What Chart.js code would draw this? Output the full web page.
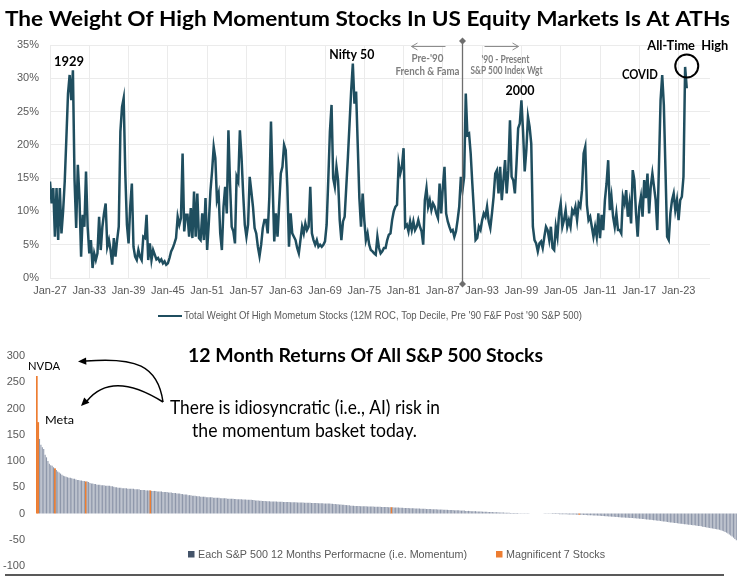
<!DOCTYPE html>
<html>
<head>
<meta charset="utf-8">
<script src="https://cdn.jsdelivr.net/npm/chart.js@4.4.1/dist/chart.umd.min.js"></script>
<style>
  html, body { margin: 0; padding: 0; background: #fff; }
  #wrap { position: relative; width: 740px; height: 586px; }
  #topChart { position: absolute; left: 0; top: 0; }
  #bottomChart { position: absolute; left: 0; top: 330px; }
</style>
</head>
<body>
<div id="wrap">
  <canvas id="topChart" width="740" height="330" style="width:740px;height:330px"></canvas>
  <canvas id="bottomChart" width="740" height="256" style="width:740px;height:256px"></canvas>
</div>
<script>
// ---- Top chart: weight of high momentum stocks, quarterly, from Q1 1927 ----
const startYear = 1927;
const w1920s = [14.5, 11.2, 13.5, 6.2, 13.5, 5.7, 13.5, 6.7, 10, 14.5, 21, 27.7];
const w1930s = [30.5, 26.7, 31.2, 14.7, 7.5, 17, 12, 3.2, 9.5, 7.7, 16, 7.7, 3.7, 5.7, 1.5, 3.7,
  2.7, 3.7, 9.2, 4.2, 7.7, 9.7, 11.2, 4.7, 5.7, 4.2, 2, 6, 3.2, 5.7, 7.7, 22,
  25.7, 27, 15.7, 8, 5.2, 10.7, 14.2, 4.7];
const w1940s = [3.2, 2.7, 4.2, 3.2, 2.7, 6.2, 6, 9.5, 2.7, 5.2, 2.7, 4.2, 3.5, 2.8, 3, 2.5,
  2.8, 2.2, 2.5, 2, 2.2, 3, 4, 4.5, 5.2, 6, 9.2, 8, 9, 18.7, 7, 9.5,
  9.5, 6.2, 10.5, 6, 13, 6.2, 12.7, 6];
const w1950s = [5.7, 9.7, 5.7, 12, 4.2, 8.2, 13, 16, 19.7, 18, 11.7, 12.7, 6.7, 4.2, 10.7, 13.7,
  9.7, 22.2, 14, 7.7, 7, 5.2, 15.2, 14.5, 22.2, 18.2, 12.7, 8, 6.2, 8, 15.2, 13,
  10.7, 7.5, 6.7, 4.7, 3.3, 5, 7.5, 8.7];
const w1960s = [8.7, 6.7, 12.2, 23.5, 14.2, 5.5, 9.7, 6.2, 11, 15.7, 16.7, 20, 19.2, 13.7, 4.7, 9.7,
  6.7, 6.2, 5.7, 4.5, 3.7, 5.7, 7.7, 6.7, 8.2, 7.2, 7.7, 13.7, 6.7, 5.7, 5, 5.7,
  4.7, 5, 4.7, 5, 5.5, 8, 14.7, 22];
const w1970s = [26, 15, 13.7, 16.7, 14.7, 8.7, 5.7, 8.5, 9.2, 13.7, 18.2, 23.2, 28.2, 32.2, 26.2, 28,
  20, 12, 7.7, 12.7, 8.7, 5.7, 6.7, 5, 4.2, 4, 3.7, 3.5, 6.2, 4.5, 3.7, 4,
  4.5, 4.5, 5.7, 6.5, 6.7, 8.7, 10, 10.7];
const w1980s = [11, 17.2, 15.7, 16.7, 19.5, 7.7, 8, 7, 8.5, 7.2, 8.5, 7.2, 7.7, 8.7, 7.7, 7,
  5, 11.7, 13.5, 10.7, 11.7, 10.2, 11.2, 10.7, 9.7, 9, 14.2, 9.7, 13.7, 16.7, 9.7, 8.5,
  7.7, 7, 7.2, 6.2, 7, 8.7, 10.7, 15.2];
const w1990s = [13.2, 15.2, 27.7, 21.5, 21.7, 18.7, 14.2, 10, 5.7, 6, 7.7, 7.2, 8.7, 9.7, 9.2, 10.7,
  8.5, 7.5, 9.7, 12.2, 15.7, 16.2, 12.7, 16.7, 11.7, 14.7, 17.7, 12.7, 16.2, 23.7, 15.2, 14.7,
  12.7, 17.2, 22.5, 23.2, 26.7, 22, 16, 19.2];
const w2000s = [24.2, 22.7, 20.2, 7.7, 5.7, 5.2, 4, 5.2, 5.5, 4.5, 6.2, 7.7, 7.2, 5.7, 7.7, 4.5,
  4.2, 7.7, 6.2, 9.7, 11.2, 7.7, 8.7, 10.2, 7.7, 8.7, 7.7, 10.2, 9.7, 10.7, 8.7, 11.2,
  10.7, 13.2, 18.7, 19.7, 11, 8.7, 9.2, 7.7];
const w2010s = [6.2, 7.7, 6.2, 9.7, 6, 9.5, 7.2, 11.7, 14.2, 17.7, 10.2, 12.2, 9.2, 7.7, 9.7, 7.2,
  7.2, 6.7, 12.2, 11.2, 13.2, 9.2, 11.2, 8.2, 16.2, 14.7, 9.7, 6.2, 10.7, 12.2, 9.2, 14.7,
  12, 15.7, 9.7, 13.7, 15.7, 13.7, 11.7, 7.2];
const w2020s = [16.7, 26.7, 30.5, 26, 16.2, 6.2, 5.7, 9.7, 11.7, 12.7, 10.2, 11.7, 8.7, 11.7, 12.2, 15.2,
  31.7, 28.5];
const weightPct = [].concat(w1920s, w1930s, w1940s, w1950s, w1960s, w1970s, w1980s, w1990s, w2000s, w2010s, w2020s);

const tickYears = [1927, 1933, 1939, 1945, 1951, 1957, 1963, 1969, 1975, 1981, 1987, 1993, 1999, 2005, 2011, 2017, 2023];
const splitYear = 1990;
const peakNotes = [
  { text: "1929", year: 1929.9, pct: 32.5, w: 30 },
  { text: "Nifty 50", year: 1973.1, pct: 33.6, w: 45 },
  { text: "2000", year: 1998.8, pct: 28.1, w: 29 },
  { text: "COVID", year: 2017.1, pct: 30.5, w: 36 },
  { text: "All-Time  High", year: 2024.4, pct: 34.9, w: 81 }
];
const athPoint = { year: 2024.25, pct: 31.85 };
const topTitle = "The Weight Of High Momentum Stocks In US Equity Markets Is At ATHs";
const topLegend = "Total Weight Of High Mometum Stocks (12M ROC, Top Decile, Pre '90 F&F Post '90 S&P 500)";

// ---- Bottom chart: 12 month returns of each S&P 500 stock, sorted ----
const stockReturns = [
  262, 174, 142, 131, 126, 123, 112, 107, 100, 95, 92, 91, 88, 86, 83, 80, 78, 76, 74, 72,
  71, 70, 69, 68, 68, 67, 66, 66, 65, 64, 64, 63, 63, 62, 62, 61, 61, 60, 58, 57,
  57, 56, 56, 55, 55, 55, 54, 54, 54, 53, 53, 53, 53, 52, 52, 51, 50, 50, 49, 49,
  49, 48, 48, 48, 48, 47, 47, 47, 47, 47, 46, 46, 46, 46, 45, 45, 45, 45, 44, 44,
  44, 44, 43, 43, 43, 43, 42, 42, 42, 42, 41, 41, 41, 41, 40, 40, 40, 39, 39, 39,
  38, 38, 38, 37, 37, 36, 36, 36, 35, 35, 35, 34, 34, 34, 33, 33, 33, 32, 32, 32,
  32, 31, 31, 31, 31, 31, 30, 30, 30, 30, 30, 29, 29, 29, 29, 29, 28, 28, 28, 28,
  28, 27.5, 27.5, 27, 27, 27, 27, 26.5, 26.5, 26.5, 26, 26, 26, 26, 25.5, 25.5, 25, 25, 25, 24.5,
  24.5, 24, 24, 24, 23.5, 23.5, 23.5, 23, 23, 23, 23, 23, 22.5, 22.5, 22.5, 22.5, 22, 22, 22, 22,
  22, 21.5, 21.5, 21.5, 21.5, 21.5, 21, 21, 21, 21, 21, 20.5, 20.5, 20.5, 20.5, 20.5, 20, 20, 20, 20,
  20, 19.5, 19.5, 19.5, 19.5, 19, 19, 19, 19, 19, 18.5, 18.5, 18, 18, 17.5, 17.5, 17, 17, 16.5, 16.5,
  16, 16, 15.5, 15.5, 15, 15, 15, 14.5, 14.5, 14.5, 14.5, 14, 14, 14, 14, 14, 13.5, 13.5, 13.5, 13.5,
  13.5, 13, 13, 13, 13, 13, 12.5, 12.5, 12.5, 12.5, 12.5, 12, 12, 12, 12, 11.5, 11.5, 11.5, 11.5, 11,
  11, 11, 10.5, 10.5, 10.5, 10.5, 10, 10, 10, 10, 9.5, 9.5, 9.5, 9.5, 9, 9, 9, 9, 8.5, 8.5,
  8.5, 8.5, 8, 8, 8, 8, 7.5, 7.5, 7.5, 7.5, 7, 7, 7, 7, 6.5, 6.5, 6.5, 6.5, 6, 6,
  6, 6, 5.5, 5.5, 5.5, 5.5, 5, 5, 5, 5, 4.5, 4.5, 4.5, 4.5, 4, 4, 4, 4, 3.5, 3.5,
  3.5, 3.5, 3, 3, 3, 3, 2.5, 2.5, 2.5, 2.5, 2, 2, 2, 2, 1.5, 1.5, 1.5, 1.5, 1, 1,
  1, 1, 0.8, 0.8, 0.6, 0.6, 0.5, 0.5, 0.4, 0.4, 0.3, 0.3, 0.2, 0.2, 0.1, 0.1, 0, 0, -0.1, -0.1,
  -0.2, -0.2, -0.3, -0.3, -0.4, -0.5, -0.6, -0.7, -0.8, -0.9, -1, -1, -1.1, -1.2, -1.3, -1.4, -1.5, -1.5, -1.6, -1.7,
  -1.8, -1.9, -2, -2, -2.1, -2.2, -2.3, -2.4, -2.5, -2.6, -2.7, -2.8, -3, -3.1, -3.3, -3.4, -3.5, -3.7, -3.8, -4,
  -4, -4.2, -4.4, -4.6, -4.8, -5, -5.2, -5.4, -5.6, -5.8, -6, -6.2, -6.4, -6.6, -6.8, -7, -7.2, -7.4, -7.6, -7.8,
  -8, -8, -8.2, -8.4, -8.6, -8.8, -9, -9.2, -9.4, -9.6, -9.8, -10, -10.3, -10.6, -10.9, -11.2, -11.5, -11.8, -12.1, -12.4,
  -12.7, -13, -13.3, -13.6, -14, -14.3, -14.6, -15, -15.3, -15.7, -16, -16.5, -17, -17.3, -17.6, -18, -18.3, -18.6, -19, -19.3,
  -19.6, -20, -20.3, -20.6, -21, -21.3, -21.6, -22, -22.3, -22.6, -23, -23.3, -23.6, -24, -24.5, -25, -25.5, -26, -26.5, -27,
  -27.5, -28, -28.5, -29, -29.5, -30, -30.5, -31, -32, -33, -34, -35, -36.5, -38, -40, -42, -44, -46, -48.5, -51
];
// positions (rank, 0 = best) of the Magnificent 7 in the sorted list
const mag7Rank = [0, 1, 13, 35, 81, 253, 387];
const bottomTitle = "12 Month Returns Of All S&P 500 Stocks";
const noteLines = ["There is idiosyncratic (i.e., AI) risk in", "the momentum basket today."];
const barLabels = ["Each S&P 500 12 Months Performacne (i.e. Momentum)", "Magnificent 7 Stocks"];

const LINE = "#1f4e5f";
const GRAY_BAR = "#8e97aa";
const LEGEND_GRAY = "#44546a";
const ORANGE = "#ed7d31";
const TXT = "#595959";
const SMALL = "'Liberation Sans Narrow', 'Liberation Sans', Arial, sans-serif";

Chart.defaults.font.family = SMALL;
Chart.defaults.font.size = 11;
Chart.defaults.color = TXT;

// draw text squeezed/stretched to a given width
function fitText(ctx, text, x, y, width, font, color, align) {
  ctx.save();
  ctx.font = font;
  ctx.fillStyle = color;
  ctx.textBaseline = "middle";
  ctx.textAlign = align || "center";
  const k = width ? width / ctx.measureText(text).width : 1;
  ctx.translate(x, y);
  ctx.scale(k, 1);
  ctx.fillText(text, 0, 0);
  ctx.restore();
}

function arrowHead(ctx, tx, ty, fx, fy, size) {
  const a = Math.atan2(ty - fy, tx - fx);
  ctx.beginPath();
  ctx.moveTo(tx, ty);
  ctx.lineTo(tx - size * Math.cos(a - 0.42), ty - size * Math.sin(a - 0.42));
  ctx.lineTo(tx - size * Math.cos(a + 0.42), ty - size * Math.sin(a + 0.42));
  ctx.closePath();
  ctx.fill();
}

const topDecor = {
  id: "topDecor",
  afterDraw(chart) {
    const { ctx, scales: { x, y } } = chart;
    fitText(ctx, topTitle, 367.5, 19, 725, "bold 21px Lato", "#000");

    // pre/post 1990 divider
    const sx = x.getPixelForValue(splitYear);
    ctx.save();
    ctx.strokeStyle = "#6e6e6e";
    ctx.fillStyle = "#6e6e6e";
    ctx.lineWidth = 1.3;
    ctx.beginPath();
    ctx.moveTo(sx, 41);
    ctx.lineTo(sx, 284);
    ctx.stroke();
    [41, 284].forEach(py => {
      ctx.beginPath();
      ctx.moveTo(sx, py - 3.5); ctx.lineTo(sx + 3.5, py); ctx.lineTo(sx, py + 3.5); ctx.lineTo(sx - 3.5, py);
      ctx.closePath(); ctx.fill();
    });
    // thin open arrows
    ctx.strokeStyle = "#8c8c8c";
    ctx.lineWidth = 1;
    const arrows = [[sx - 17, sx - 51], [sx + 22, sx + 56]];
    arrows.forEach(([a, b]) => {
      const dir = Math.sign(b - a);
      ctx.beginPath();
      ctx.moveTo(a, 46.5); ctx.lineTo(b, 46.5);
      ctx.moveTo(b - dir * 6, 43); ctx.lineTo(b, 46.5); ctx.lineTo(b - dir * 6, 50);
      ctx.stroke();
    });
    ctx.restore();
    fitText(ctx, "Pre-'90", sx - 35, 59, 32, "bold 10.5px Lato", "#7f7f7f");
    fitText(ctx, "French & Fama", sx - 35, 72, 64, "bold 10.5px Lato", "#7f7f7f");
    fitText(ctx, "'90 - Present", sx + 43, 60, 48, "bold 10.5px Lato", "#7f7f7f");
    fitText(ctx, "S&P 500 Index Wgt", sx + 44, 71, 72, "bold 10.5px Lato", "#7f7f7f");

    // event labels
    peakNotes.forEach(n => {
      fitText(ctx, n.text, x.getPixelForValue(n.year), y.getPixelForValue(n.pct), n.w, "bold 13px Lato", "#000");
    });
    // circle round the all-time high
    ctx.save();
    ctx.strokeStyle = "#000";
    ctx.lineWidth = 2;
    ctx.beginPath();
    ctx.arc(x.getPixelForValue(athPoint.year), y.getPixelForValue(athPoint.pct), 11.5, 0, Math.PI * 2);
    ctx.stroke();
    // legend
    ctx.strokeStyle = LINE;
    ctx.lineWidth = 2;
    ctx.beginPath();
    ctx.moveTo(158, 316); ctx.lineTo(182, 316);
    ctx.stroke();
    ctx.restore();
    fitText(ctx, topLegend, 184, 316, 398, "11px " + SMALL, TXT, "left");
  }
};

new Chart(document.getElementById("topChart"), {
  type: "line",
  data: {
    datasets: [{
      label: topLegend,
      data: weightPct.map((v, i) => ({ x: startYear + i / 4, y: v })),
      borderColor: LINE,
      borderWidth: 2.5,
      pointRadius: 0,
      tension: 0,
      fill: false
    }]
  },
  options: {
    responsive: false,
    animation: false,
    layout: { padding: { top: 45, right: 30, left: 0, bottom: 0 } },
    plugins: { legend: { display: false }, tooltip: { enabled: false } },
    scales: {
      x: {
        type: "linear",
        min: 1927,
        max: 2027.8,
        afterBuildTicks: s => { s.ticks = tickYears.map(v => ({ value: v })); },
        afterFit: s => { s.height = 52; },
        grid: { color: "#ebebeb", drawTicks: false },
        border: { display: false },
        ticks: { padding: 6, maxRotation: 0, autoSkip: false, callback: v => "Jan-" + String(v).slice(2) }
      },
      y: {
        min: 0,
        max: 35,
        afterFit: s => { s.width = 50; },
        grid: { color: "#ebebeb", drawTicks: false },
        border: { display: false },
        ticks: { stepSize: 5, padding: 11, callback: v => v + "%" }
      }
    }
  },
  plugins: [topDecor]
});

const bottomDecor = {
  id: "bottomDecor",
  afterDraw(chart) {
    const { ctx } = chart;
    fitText(ctx, bottomTitle, 365.5, 25.5, 355, "bold 19px Lato", "#000");
    fitText(ctx, "NVDA", 44, 36, 32, "12px Lato", "#000");
    fitText(ctx, "Meta", 59.5, 90, 29, "12px Lato", "#000");
    fitText(ctx, noteLines[0], 305, 78, 270, "19px Lato", "#000");
    fitText(ctx, noteLines[1], 304.5, 101, 225, "19px Lato", "#000");

    ctx.save();
    ctx.strokeStyle = "#000";
    ctx.fillStyle = "#000";
    ctx.lineWidth = 1.5;
    ctx.beginPath();
    ctx.moveTo(163, 72);
    ctx.bezierCurveTo(158, 35, 135, 27, 86, 31);
    ctx.stroke();
    arrowHead(ctx, 78, 31.5, 100, 30.5, 9);
    ctx.beginPath();
    ctx.moveTo(163, 72);
    ctx.quadraticCurveTo(112, 40, 87, 71);
    ctx.stroke();
    arrowHead(ctx, 81, 76, 95, 62, 9);

    // legend
    ctx.fillStyle = LEGEND_GRAY;
    ctx.fillRect(188, 221, 6.5, 6.5);
    ctx.fillStyle = ORANGE;
    ctx.fillRect(496, 221, 6.5, 6.5);
    ctx.restore();
    fitText(ctx, barLabels[0], 198, 224.5, 269, "11px " + SMALL, TXT, "left");
    fitText(ctx, barLabels[1], 506, 224.5, 99, "11px " + SMALL, TXT, "left");

    // closing rule
    ctx.save();
    ctx.strokeStyle = "#222";
    ctx.lineWidth = 1.5;
    ctx.beginPath();
    ctx.moveTo(5, 245); ctx.lineTo(724, 245);
    ctx.stroke();
    ctx.restore();
  }
};

new Chart(document.getElementById("bottomChart"), {
  type: "bar",
  data: {
    labels: stockReturns.map((_, i) => i + 1),
    datasets: [
      {
        label: barLabels[0],
        data: stockReturns.map((v, i) => mag7Rank.includes(i) ? null : v),
        backgroundColor: GRAY_BAR,
        barPercentage: 0.78,
        categoryPercentage: 1,
        grouped: false
      },
      {
        label: barLabels[1],
        data: stockReturns.map((v, i) => mag7Rank.includes(i) ? v : null),
        backgroundColor: ORANGE,
        barPercentage: 1.4,
        categoryPercentage: 1,
        grouped: false
      }
    ]
  },
  options: {
    responsive: false,
    animation: false,
    layout: { padding: { top: 26, right: 3, left: 0, bottom: 20 } },
    plugins: { legend: { display: false }, tooltip: { enabled: false } },
    scales: {
      x: { display: false },
      y: {
        min: -100,
        max: 300,
        afterFit: s => { s.width = 36; },
        grid: { display: false, drawTicks: false },
        border: { display: false },
        ticks: { stepSize: 50, padding: 11 }
      }
    }
  },
  plugins: [bottomDecor]
});
</script>
</body>
</html>
